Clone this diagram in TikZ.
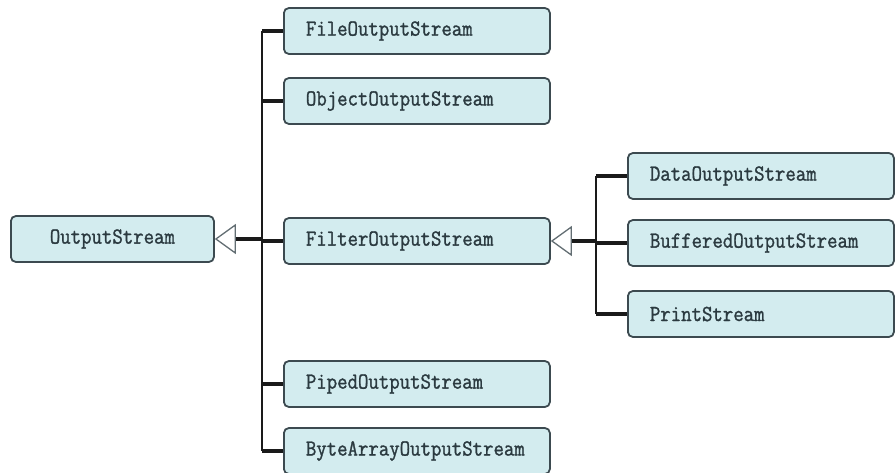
\documentclass[tikz,border=0pt]{standalone}
\usepackage{fontspec}
\setmonofont{Latin Modern Mono}[FakeStretch=0.88,FakeBold=1.2]
\usetikzlibrary{arrows.meta,positioning}
\definecolor{OSFill}{HTML}{D3ECEF}
\definecolor{OSEdge}{HTML}{3C4A50}
\definecolor{OSInk}{HTML}{2B3A40}
\definecolor{OSLine}{HTML}{1A1A1A}
\tikzset{
  cls/.style={draw=OSEdge,line width=1.8pt,fill=OSFill,rounded corners=5pt,
              text=OSInk,font=\ttfamily\fontsize{23}{25}\selectfont,
              minimum width=266pt,minimum height=46pt,inner xsep=22pt,
              anchor=west,align=left,text width=222pt},
  clsroot/.style={cls,minimum width=203pt,text width=159pt,align=center},
  bus/.style={OSLine,line width=2.2pt},
  stub/.style={OSLine,line width=3.2pt},
  inherit/.style={stub,-{Triangle[length=21pt,width=30pt,line width=1.3pt,color=OSEdge!80,fill=white]}},
}
\begin{document}
\begin{tikzpicture}[x=1pt,y=-1pt]
  \useasboundingbox (0,0) rectangle (896,473);
  % root
  \node[clsroot] (out) at (10,239) {OutputStream};
  % first level
  \node[cls] (file)   at (283,31)  {FileOutputStream};
  \node[cls] (object) at (283,101) {ObjectOutputStream};
  \node[cls] (filter) at (283,241) {FilterOutputStream};
  \node[cls] (piped)  at (283,384) {PipedOutputStream};
  \node[cls] (bytes)  at (283,451) {ByteArrayOutputStream};
  % filters
  \node[cls] (data)   at (627,176) {DataOutputStream};
  \node[cls] (buffer) at (627,243) {BufferedOutputStream};
  \node[cls] (print)  at (627,314) {PrintStream};
  % buses
  \coordinate (busA) at (262,239);
  \coordinate (busB) at (596,241);
  \draw[bus] (busA |- file.west) -- (busA |- bytes.west);
  \draw[bus] (busB |- data.west) -- (busB |- print.west);
  \foreach \n in {file,object,filter,piped,bytes}
    \draw[stub] (busA |- \n.west) -- (\n.west);
  \foreach \n in {data,buffer,print}
    \draw[stub] (busB |- \n.west) -- (\n.west);
  \draw[inherit] (busA) -- (out.east);
  \draw[inherit] (busB) -- (filter.east);
\end{tikzpicture}
\end{document}
